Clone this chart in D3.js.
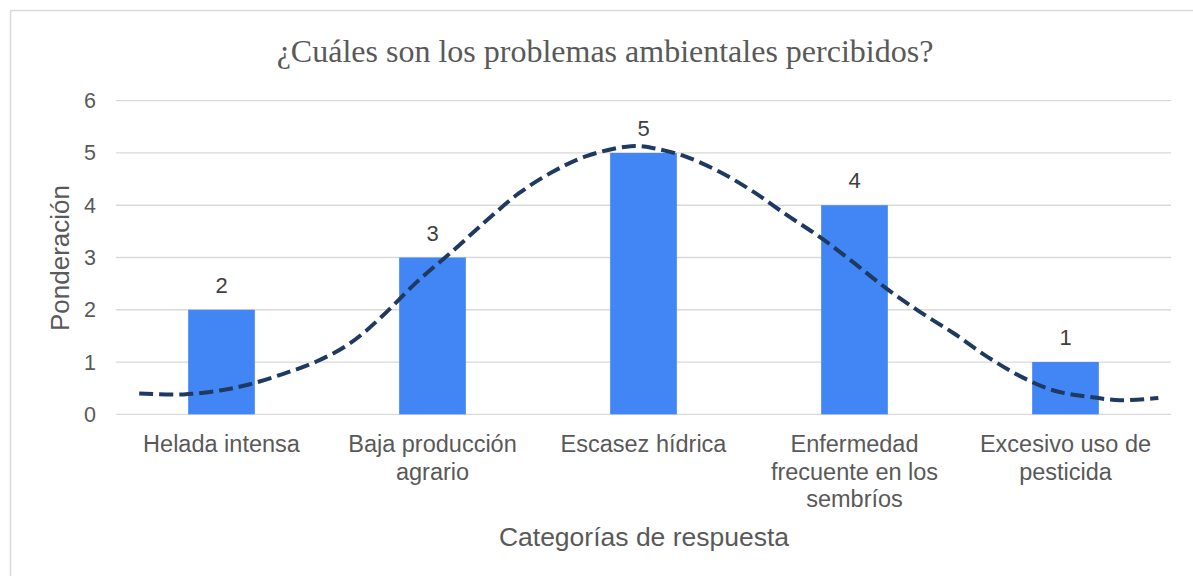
<!DOCTYPE html>
<html>
<head>
<meta charset="utf-8">
<script src="https://cdn.jsdelivr.net/npm/d3@7"></script>
<style>
  body { margin: 0; background: #fff; }
  #chart { width: 1193px; height: 576px; }
</style>
</head>
<body>
<div id="chart"></div>
<script>
// categories and values
var categories = [
    ["Helada intensa"],
    ["Baja producción", "agrario"],
    ["Escasez hídrica"],
    ["Enfermedad", "frecuente en los", "sembríos"],
    ["Excesivo uso de", "pesticida"]
];
var values = [2, 3, 5, 4, 1];
var yTicks = [0, 1, 2, 3, 4, 5, 6];

// dashed curve, position in category units (0 = first category) and value
var trendPos = [-0.39, -0.18, 0, 0.13, 0.29, 0.45, 0.61, 0.76, 0.92, 1.10, 1.26, 1.41, 1.57, 1.73, 1.94,
    2.05, 2.20, 2.36, 2.52, 2.68, 2.84, 2.99, 3.15, 3.31, 3.47, 3.63, 3.78, 3.94, 4.10, 4.26, 4.44];
var trendVal = [0.40, 0.38, 0.46, 0.57, 0.77, 1.01, 1.36, 1.87, 2.51, 3.14, 3.72, 4.23, 4.64, 4.94, 5.13,
    5.09, 4.93, 4.64, 4.26, 3.81, 3.38, 2.92, 2.41, 1.96, 1.55, 1.10, 0.74, 0.46, 0.34, 0.27, 0.31];

(function () {
    var width = 1193, height = 576;
    var left = 116, right = 1171, top = 100.7, bottom = 414.3;

    var svg = d3.select("#chart")
        .append("svg")
        .attr("width", width)
        .attr("height", height);

    // outer frame
    svg.append("rect")
        .attr("x", 10.5).attr("y", 10.5)
        .attr("width", 1300).attr("height", 700)
        .attr("fill", "none")
        .attr("stroke", "#d9d9d9")
        .attr("stroke-width", 1.5);

    var x = d3.scaleBand()
        .domain(d3.range(values.length))
        .range([left, right])
        .paddingInner(0.684)
        .paddingOuter(0.342);

    var xPos = d3.scaleLinear()
        .domain([-0.5, values.length - 0.5])
        .range([left, right]);

    var y = d3.scaleLinear()
        .domain([0, 6])
        .range([bottom, top]);

    // gridlines
    svg.append("g")
        .selectAll("line")
        .data(yTicks)
        .enter().append("line")
        .attr("x1", left).attr("x2", right)
        .attr("y1", function (d) { return y(d); })
        .attr("y2", function (d) { return y(d); })
        .attr("stroke", "#d9d9d9")
        .attr("stroke-width", 1.3);

    // y tick labels
    svg.append("g")
        .selectAll("text")
        .data(yTicks)
        .enter().append("text")
        .attr("x", 96)
        .attr("y", function (d) { return y(d) + 7.5; })
        .attr("text-anchor", "end")
        .attr("font-family", "Liberation Sans, Arial, sans-serif")
        .attr("font-size", 21.5)
        .attr("fill", "#595959")
        .text(function (d) { return d; });

    // bars
    svg.append("g")
        .selectAll("rect")
        .data(values)
        .enter().append("rect")
        .attr("x", function (d, i) { return x(i); })
        .attr("y", function (d) { return y(d); })
        .attr("width", x.bandwidth())
        .attr("height", function (d) { return y(0) - y(d); })
        .attr("fill", "#4285f4");

    // value labels
    svg.append("g")
        .selectAll("text")
        .data(values)
        .enter().append("text")
        .attr("x", function (d, i) { return x(i) + x.bandwidth() / 2; })
        .attr("y", function (d) { return y(d) - 17; })
        .attr("text-anchor", "middle")
        .attr("font-family", "Liberation Sans, Arial, sans-serif")
        .attr("font-size", 22)
        .attr("fill", "#404040")
        .text(function (d) { return d; });

    // dashed curve
    var line = d3.line()
        .x(function (d, i) { return xPos(trendPos[i]); })
        .y(function (d) { return y(d); })
        .curve(d3.curveCatmullRom.alpha(0.5));

    svg.append("path")
        .datum(trendVal)
        .attr("d", line)
        .attr("fill", "none")
        .attr("stroke", "#1f3a60")
        .attr("stroke-width", 4)
        .attr("stroke-dasharray", "14,6");

    // category labels
    var cat = svg.append("g")
        .selectAll("text")
        .data(categories)
        .enter().append("text")
        .attr("x", function (d, i) { return x(i) + x.bandwidth() / 2; })
        .attr("y", 452)
        .attr("text-anchor", "middle")
        .attr("font-family", "Liberation Sans, Arial, sans-serif")
        .attr("font-size", 23.5)
        .attr("fill", "#595959");

    cat.selectAll("tspan")
        .data(function (d) { return d; })
        .enter().append("tspan")
        .attr("x", function () { return d3.select(this.parentNode).attr("x"); })
        .attr("dy", function (d, i) { return i == 0 ? 0 : 27.5; })
        .text(function (d) { return d; });

    // title
    svg.append("text")
        .attr("x", 605)
        .attr("y", 62)
        .attr("text-anchor", "middle")
        .attr("font-family", "Liberation Serif, Times New Roman, serif")
        .attr("font-size", 32)
        .attr("fill", "#595959")
        .text("¿Cuáles son los problemas ambientales percibidos?");

    // axis titles
    svg.append("text")
        .attr("x", 644)
        .attr("y", 546)
        .attr("text-anchor", "middle")
        .attr("font-family", "Liberation Sans, Arial, sans-serif")
        .attr("font-size", 26.5)
        .attr("fill", "#595959")
        .text("Categorías de respuesta");

    svg.append("text")
        .attr("transform", "translate(69,258) rotate(-90)")
        .attr("text-anchor", "middle")
        .attr("font-family", "Liberation Sans, Arial, sans-serif")
        .attr("font-size", 26)
        .attr("fill", "#595959")
        .text("Ponderación");
})();
</script>
</body>
</html>
